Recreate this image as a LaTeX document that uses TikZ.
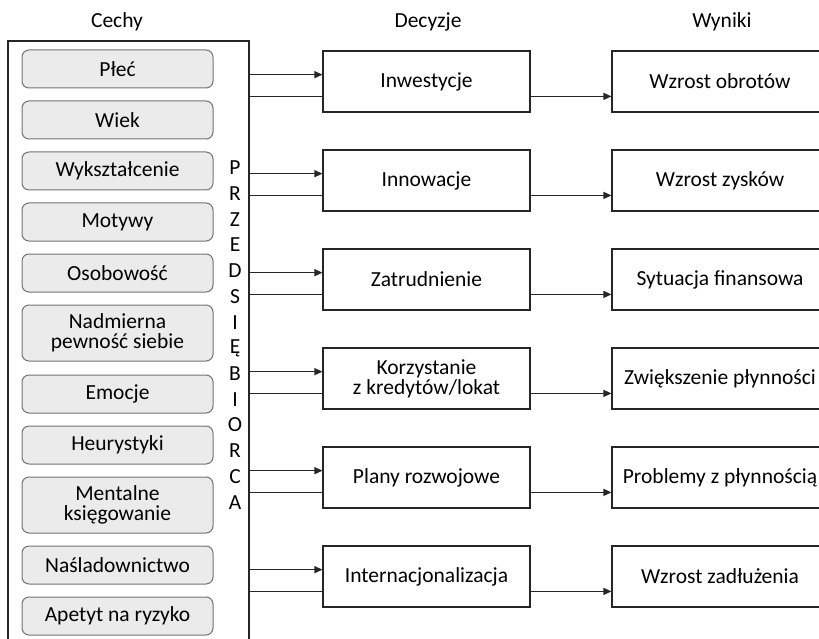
\documentclass[tikz,border=0pt]{standalone}
\usepackage{fontspec}
\setmainfont{Carlito}
\usetikzlibrary{arrows.meta,calc}
\begin{document}
\begin{tikzpicture}[x=1pt,y=-1pt,
  font=\fontsize{21.5}{20}\selectfont,
  feat/.style={draw=black!55,fill=black!8,rounded corners=7pt,line width=1pt,
    minimum width=191pt,inner sep=0pt,align=center},
  dec/.style={draw=black!85,line width=1.1pt,minimum width=207pt,minimum height=61pt,inner sep=0pt,align=center},
  res/.style={draw=black!85,line width=1.1pt,minimum width=216pt,minimum height=61pt,inner sep=0pt,align=center},
  conn/.style={draw=black!85,line width=1.1pt},
  arr/.style={conn,-{Triangle[length=8pt,width=7pt]}},
  hdr/.style={inner sep=0pt}]
\useasboundingbox (0,0) rectangle (819,639);
\clip (0,0) rectangle (819,639);
% headers
\node[hdr] (h1) at (117,22) {Cechy};
\node[hdr] (h2) at (428,22) {Decyzje};
\node[hdr] (h3) at (722,22) {Wyniki};
% outer box
\node[draw=black!85,line width=1.3pt,minimum width=241pt,minimum height=650pt,inner sep=0pt] (outer) at (128.5,366) {};
% feature boxes
\node[feat,minimum height=38pt] (f1) at (117.5,69) {Płeć};
\node[feat,minimum height=38pt] (f2) at (117.5,120) {Wiek};
\node[feat,minimum height=38pt] (f3) at (117.5,171) {Wykształcenie};
\node[feat,minimum height=38pt] (f4) at (117.5,222) {Motywy};
\node[feat,minimum height=38pt] (f5) at (117.5,273) {Osobowość};
\node[feat,minimum height=56pt] (f6) at (117.5,333) {Nadmierna\\pewność siebie};
\node[feat,minimum height=38pt] (f7) at (117.5,394) {Emocje};
\node[feat,minimum height=38pt] (f8) at (117.5,445) {Heurystyki};
\node[feat,minimum height=56pt] (f9) at (117.5,505) {Mentalne\\księgowanie};
\node[feat,minimum height=38pt] (f10) at (117.5,565) {Naśladownictwo};
\node[feat,minimum height=38pt] (f11) at (117.5,616) {Apetyt na ryzyko};
% vertical word
\foreach \ch [count=\i from 0] in {P,R,Z,E,D,S,I,Ę,B,I,O,R,C,A}{
  \node[inner sep=0pt] (l\i) at (235,{168+25.7*\i}) {\ch};
}
% decisions and results
\foreach \t/\dtxt/\rtxt [count=\i] in {
  51/Inwestycje/Wzrost obrotów,
  150/Innowacje/Wzrost zysków,
  249/Zatrudnienie/Sytuacja finansowa,
  348/{Korzystanie\\z kredytów/lokat}/Zwiększenie płynności,
  447/Plany rozwojowe/Problemy z płynnością,
  546/Internacjonalizacja/Wzrost zadłużenia}{
  \node[dec] (d\i) at (426.5,{\t+30.5}) {\dtxt};
  \node[res] (r\i) at (720,{\t+30.5}) {\rtxt};
  \coordinate (a\i) at ($(d\i.north west)!0.39!(d\i.south west)$);
  \coordinate (b\i) at ($(d\i.north west)!0.74!(d\i.south west)$);
  \draw[arr] (outer.east |- a\i) -- (a\i);
  \draw[conn] (outer.east |- b\i) -- (b\i);
  \draw[arr] (d\i.east |- b\i) -- (r\i.west |- b\i);
}
\end{tikzpicture}
\end{document}
